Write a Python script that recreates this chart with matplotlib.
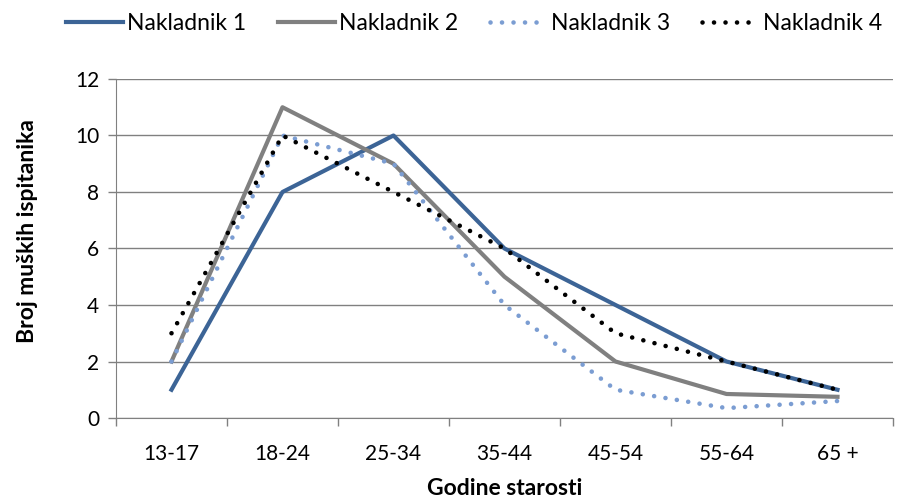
import numpy as np
import matplotlib
matplotlib.use("Agg")
from matplotlib import pyplot as plt
from matplotlib.lines import Line2D

categories = ["13-17", "18-24", "25-34", "35-44", "45-54", "55-64", "65 +"]
nakladnik_1 = [1, 8, 10, 6, 4, 2, 1]
nakladnik_2 = [2, 11, 9, 5, 2, 0.85, 0.75]
nakladnik_3 = [2, 10, 9, 4, 1, 0.35, 0.6]
nakladnik_4 = [3, 10, 8, 6, 3, 2, 1]
labels = ["Nakladnik 1", "Nakladnik 2", "Nakladnik 3", "Nakladnik 4"]

plt.rcParams['font.family'] = ['Lato', 'DejaVu Sans']

blue = "#3c6496"
gray = "#808080"
lblue = "#7b9dd2"
dots = (0, (0.01, 2.5))

fig = plt.figure(figsize=(9.12, 5.0), dpi=100)
ax = fig.add_axes([116 / 912, 82 / 500, 777 / 912, 339 / 500])

x = np.arange(len(categories))
ax.plot(x, nakladnik_1, color=blue, lw=3.0, zorder=3)
ax.plot(x, nakladnik_2, color=gray, lw=3.0, zorder=3)
ax.plot(x, nakladnik_3, color=lblue, lw=3.3, linestyle=dots,
        dash_capstyle="round", zorder=3)
ax.plot(x, nakladnik_4, color="black", lw=3.3, linestyle=dots,
        dash_capstyle="round", zorder=4)

ax.set_xlim(-0.5, len(categories) - 0.5)
ax.set_ylim(0, 12)
ax.set_yticks(range(0, 13, 2))
ax.set_xticks(x)
ax.set_xticklabels(categories)
ax.set_xticks(np.arange(-0.5, len(categories), 1), minor=True)
ax.tick_params(axis="x", which="major", length=0, pad=19, labelsize=15)
ax.tick_params(axis="x", which="minor", length=6, color=gray, width=1)
ax.tick_params(axis="y", length=6, color=gray, width=1, pad=6, labelsize=15)
ax.grid(axis="y", color=gray, lw=1)
ax.set_axisbelow(True)
for s in ["top", "right"]:
    ax.spines[s].set_visible(False)
ax.spines["left"].set_color(gray)
ax.spines["bottom"].set_color(gray)

ax.set_xlabel("Godine starosti", fontsize=16.5, fontweight="bold")
ax.set_ylabel("Broj muških ispitanika", fontsize=16.5, fontweight="bold")
ax.xaxis.set_label_coords(0.5, -0.178)
ax.yaxis.set_label_coords(-0.101, 0.55)

handles = [
    Line2D([], [], color=blue, lw=3.0),
    Line2D([], [], color=gray, lw=3.0),
    Line2D([], [], color=lblue, lw=3.3, linestyle=dots, dash_capstyle="round"),
    Line2D([], [], color="black", lw=3.3, linestyle=dots, dash_capstyle="round"),
]
fig.legend(handles, labels, loc="center", bbox_to_anchor=(474 / 912, 1 - 24 / 500),
           ncol=4, frameon=False, fontsize=16.5, handlelength=2.5,
           handletextpad=0.15, columnspacing=1.4)

fig.savefig("out.png", dpi=100)
